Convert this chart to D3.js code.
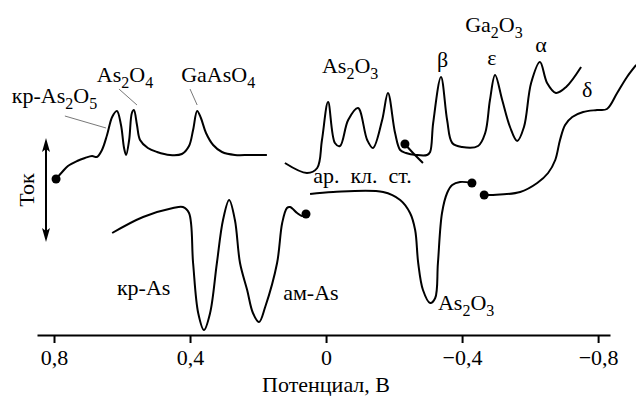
<!DOCTYPE html>
<html><head><meta charset="utf-8"><script src="https://cdn.jsdelivr.net/npm/d3@7"></script></head>
<body style="margin:0">
<script>
// potential (V), current (arb. units)
const anodicLeft = [
  [0.794, 156], [0.776, 163], [0.759, 169], [0.732, 174], [0.709, 177], [0.688, 179],
  [0.674, 178], [0.659, 185], [0.644, 200], [0.629, 218], [0.615, 224], [0.603, 210],
  [0.594, 187], [0.588, 180], [0.579, 195], [0.571, 222], [0.565, 225], [0.556, 210],
  [0.547, 195], [0.524, 187], [0.497, 183], [0.459, 180], [0.424, 181], [0.403, 189],
  [0.391, 205], [0.379, 224], [0.368, 217], [0.353, 202], [0.332, 190], [0.306, 183],
  [0.268, 180], [0.224, 180], [0.174, 180]
];
const anodicRight = [
  [0.121, 172], [0.056, 162], [0.026, 167], [0.012, 195], [-0.006, 233], [-0.026, 192],
  [-0.041, 189], [-0.065, 215], [-0.094, 227], [-0.121, 195], [-0.138, 187], [-0.165, 215],
  [-0.182, 242], [-0.203, 202], [-0.218, 185], [-0.235, 182], [-0.265, 180], [-0.297, 180],
  [-0.306, 183], [-0.315, 212], [-0.338, 258], [-0.356, 215], [-0.371, 192], [-0.400, 188],
  [-0.447, 189], [-0.468, 202], [-0.482, 235], [-0.497, 260], [-0.518, 235], [-0.541, 208],
  [-0.562, 194], [-0.582, 208], [-0.603, 252], [-0.629, 273], [-0.650, 252], [-0.676, 242],
  [-0.706, 248], [-0.750, 268]
];
const anodicBranch = [
  [-0.232, 191], [-0.253, 183], [-0.285, 172]
];
const cathodicLeft = [
  [0.629, 102], [0.538, 118], [0.450, 127], [0.421, 128], [0.403, 122], [0.391, 72],
  [0.376, 22], [0.359, 5], [0.341, 22], [0.321, 72], [0.303, 115], [0.285, 135],
  [0.268, 115], [0.253, 72], [0.232, 45], [0.215, 22], [0.197, 13], [0.179, 28],
  [0.144, 72], [0.129, 112], [0.115, 127], [0.106, 128], [0.085, 122], [0.071, 119],
  [0.059, 121]
];
const cathodicRight = [
  [0.047, 141], [-0.021, 143], [-0.168, 143], [-0.218, 135], [-0.247, 122], [-0.262, 105],
  [-0.271, 72], [-0.285, 45], [-0.306, 32], [-0.321, 37], [-0.329, 72], [-0.341, 122],
  [-0.356, 142], [-0.371, 150], [-0.394, 153], [-0.429, 152]
];
const deltaCurve = [
  [-0.465, 140], [-0.491, 140], [-0.571, 143], [-0.621, 152], [-0.653, 162], [-0.674, 175],
  [-0.688, 195], [-0.703, 210], [-0.724, 218], [-0.756, 223], [-0.797, 225], [-0.826, 226],
  [-0.856, 242], [-0.885, 258], [-0.912, 270]
];
const startDots = [
  [0.794, 156], [0.059, 121], [-0.232, 191], [-0.429, 152], [-0.465, 140]
];

const tickValues = [0.8, 0.4, 0, -0.4, -0.8];

// text, potential, current
const labels = [
  ["кр-As_2O_5", 0.924, 232],
  ["As_2O_4", 0.674, 253],
  ["GaAsO_4", 0.426, 253],
  ["As_2O_3", 0.012, 262],
  ["Ga_2O_3", -0.409, 303],
  ["β", -0.326, 268],
  ["ε", -0.474, 270],
  ["α", -0.615, 283],
  ["δ", -0.753, 238],
  ["ар.  кл.  ст.", 0.038, 152],
  ["кр-As", 0.615, 40],
  ["ам-As", 0.126, 35],
  ["As_2O_3", -0.329, 25]
];
const leaders = [
  [[0.768, 219], [0.647, 207]],
  [[0.609, 246], [0.556, 230]],
  [[0.400, 246], [0.379, 230]]
];

const width = 636, height = 396;
const serif = '"Liberation Serif", "Times New Roman"';

const x = d3.scaleLinear().domain([0.85, -0.835]).range([37, 610]);
const y = d3.scaleLinear().domain([0, 300]).range([335, 35]);

const svg = d3.select('body').append('svg')
  .attr('width', width)
  .attr('height', height)
  .style('display', 'block');

// x axis
const xAxis = d3.axisBottom(x)
  .tickValues(tickValues)
  .tickSize(8)
  .tickSizeOuter(0)
  .tickPadding(6)
  .tickFormat(d => d === 0 ? '0' : (d < 0 ? '\u2212' : '') + Math.abs(d).toFixed(1).replace('.', ','));

const gX = svg.append('g')
  .attr('transform', `translate(0, ${y(0)})`)
  .call(xAxis)
  .attr('font-family', null)
  .attr('font-size', null);
gX.select('.domain').attr('stroke', '#000').attr('stroke-width', 2);
gX.selectAll('.tick line').attr('stroke', '#000').attr('stroke-width', 2);
gX.selectAll('.tick text')
  .attr('fill', '#000')
  .style('font-family', serif)
  .attr('font-size', 22);

svg.append('text')
  .attr('x', x(0))
  .attr('y', 392)
  .attr('text-anchor', 'middle')
  .style('font-family', serif)
  .attr('font-size', 22)
  .text('Потенциал, В');

// current arrow
const ax = 46, ayTop = 138, ayBot = 242;
svg.append('line')
  .attr('x1', ax).attr('x2', ax)
  .attr('y1', ayTop + 8).attr('y2', ayBot - 8)
  .attr('stroke', '#000').attr('stroke-width', 2);
svg.append('path')
  .attr('d', `M${ax},${ayTop} L${ax - 4},${ayTop + 14} L${ax},${ayTop + 11} L${ax + 4},${ayTop + 14} Z`)
  .attr('fill', '#000');
svg.append('path')
  .attr('d', `M${ax},${ayBot} L${ax - 4},${ayBot - 14} L${ax},${ayBot - 11} L${ax + 4},${ayBot - 14} Z`)
  .attr('fill', '#000');
svg.append('text')
  .attr('transform', `translate(34, ${(ayTop + ayBot) / 2}) rotate(-90)`)
  .attr('text-anchor', 'middle')
  .style('font-family', serif)
  .attr('font-size', 22)
  .text('Ток');

// curves
const line = d3.line()
  .x(d => x(d[0]))
  .y(d => y(d[1]))
  .curve(d3.curveCatmullRom.alpha(0.5));

[anodicLeft, anodicRight, anodicBranch, cathodicLeft, cathodicRight, deltaCurve].forEach(c => {
  svg.append('path')
    .datum(c)
    .attr('d', line)
    .attr('fill', 'none')
    .attr('stroke', '#000')
    .attr('stroke-width', 2)
    .attr('stroke-linejoin', 'round');
});

svg.selectAll('.dot')
  .data(startDots)
  .enter()
  .append('circle')
  .classed('dot', true)
  .attr('cx', d => x(d[0]))
  .attr('cy', d => y(d[1]))
  .attr('r', 4.5)
  .attr('fill', '#000');

// leader lines
leaders.forEach(l => {
  svg.append('line')
    .attr('x1', x(l[0][0])).attr('y1', y(l[0][1]))
    .attr('x2', x(l[1][0])).attr('y2', y(l[1][1]))
    .attr('stroke', '#555')
    .attr('stroke-width', 0.8);
});

// labels, "_n" marks a subscript
labels.forEach(([txt, v, i]) => {
  const t = svg.append('text')
    .attr('x', x(v))
    .attr('y', y(i))
    .style('font-family', serif)
    .attr('font-size', 22)
    .style('white-space', 'pre');
  const parts = txt.split(/(_\d)/).filter(p => p.length);
  let sub = false;
  parts.forEach(p => {
    if (p[0] === '_') {
      t.append('tspan').attr('dy', 6).attr('font-size', 16).text(p.slice(1));
      sub = true;
    } else {
      t.append('tspan').attr('dy', sub ? -6 : 0).text(p);
      sub = false;
    }
  });
});
</script>
</body></html>
